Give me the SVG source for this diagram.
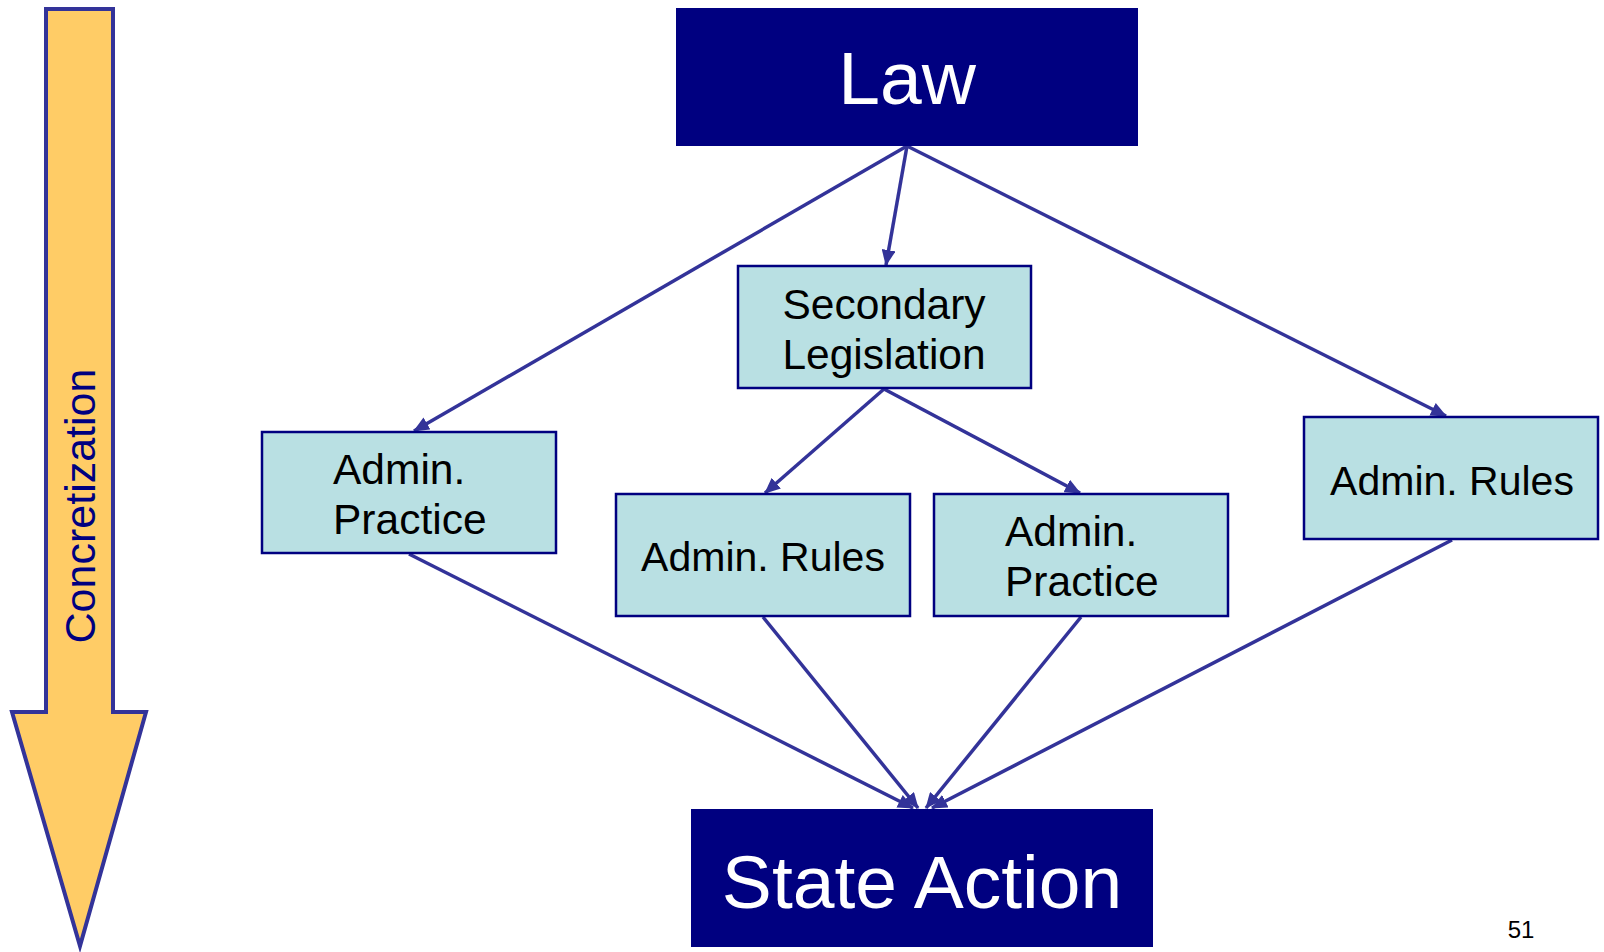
<svg xmlns="http://www.w3.org/2000/svg" width="1604" height="952" viewBox="0 0 1604 952">
<style>
.dark{fill:#000080;}
.light{fill:#B9E0E3;stroke:#000080;stroke-width:2.5;}
.wt{font-family:"Liberation Sans",Arial,sans-serif;fill:#ffffff;text-anchor:middle;}
.bt{font-family:"Liberation Sans",Arial,sans-serif;fill:#000000;font-size:42.5px;}
.rt{font-size:41px;}
.conn line{stroke:#333399;stroke-width:3.5;marker-end:url(#ah);}
</style>
<defs>
<marker id="ah" markerUnits="userSpaceOnUse" markerWidth="16" markerHeight="14" refX="15" refY="7" orient="auto">
<path d="M0,0 L16,7 L0,14 z" fill="#333399"/>
</marker>
</defs>
<rect width="1604" height="952" fill="#ffffff"/>
<g id="concretization">
<polygon points="46,9 113,9 113,712 146,712 80,946 12,712 46,712" fill="#FFCC66" stroke="#333399" stroke-width="4"/>
<text transform="translate(95,506) rotate(-90)" font-family="Liberation Sans,Arial,sans-serif" font-size="43" fill="#000080" text-anchor="middle">Concretization</text>
</g>
<g class="conn" id="connectors">
<line x1="907" y1="146" x2="414" y2="431"/>
<line x1="907" y1="146" x2="886" y2="265"/>
<line x1="907" y1="146" x2="1446" y2="416"/>
<line x1="884" y1="389" x2="765" y2="493"/>
<line x1="884" y1="389" x2="1080" y2="493"/>
<line x1="409" y1="554" x2="913" y2="808"/>
<line x1="763" y1="617" x2="918" y2="808"/>
<line x1="1081" y1="617" x2="926" y2="808"/>
<line x1="1452" y1="540" x2="932" y2="808"/>
</g>
<g id="law">
<rect class="dark" x="676" y="8" width="462" height="138"/>
<text class="wt" x="907" y="104" font-size="75">Law</text>
</g>
<g id="secondary">
<rect class="light" x="738" y="266" width="293" height="122"/>
<text class="bt" x="884" y="319" text-anchor="middle">Secondary</text>
<text class="bt" x="884" y="369" text-anchor="middle">Legislation</text>
</g>
<g id="practice1">
<rect class="light" x="262" y="432" width="294" height="121"/>
<text class="bt" x="333" y="484">Admin.</text>
<text class="bt" x="333" y="534">Practice</text>
</g>
<g id="rules1">
<rect class="light" x="616" y="494" width="294" height="122"/>
<text class="bt rt" x="763" y="571" text-anchor="middle">Admin. Rules</text>
</g>
<g id="practice2">
<rect class="light" x="934" y="494" width="294" height="122"/>
<text class="bt" x="1005" y="546">Admin.</text>
<text class="bt" x="1005" y="596">Practice</text>
</g>
<g id="rules2">
<rect class="light" x="1304" y="417" width="294" height="122"/>
<text class="bt rt" x="1452" y="495" text-anchor="middle">Admin. Rules</text>
</g>
<g id="state">
<rect class="dark" x="691" y="809" width="462" height="138"/>
<text class="wt" x="922" y="908" font-size="75">State Action</text>
</g>
<text x="1521" y="938" font-family="Liberation Sans,Arial,sans-serif" font-size="24" fill="#000000" text-anchor="middle">51</text>
</svg>
